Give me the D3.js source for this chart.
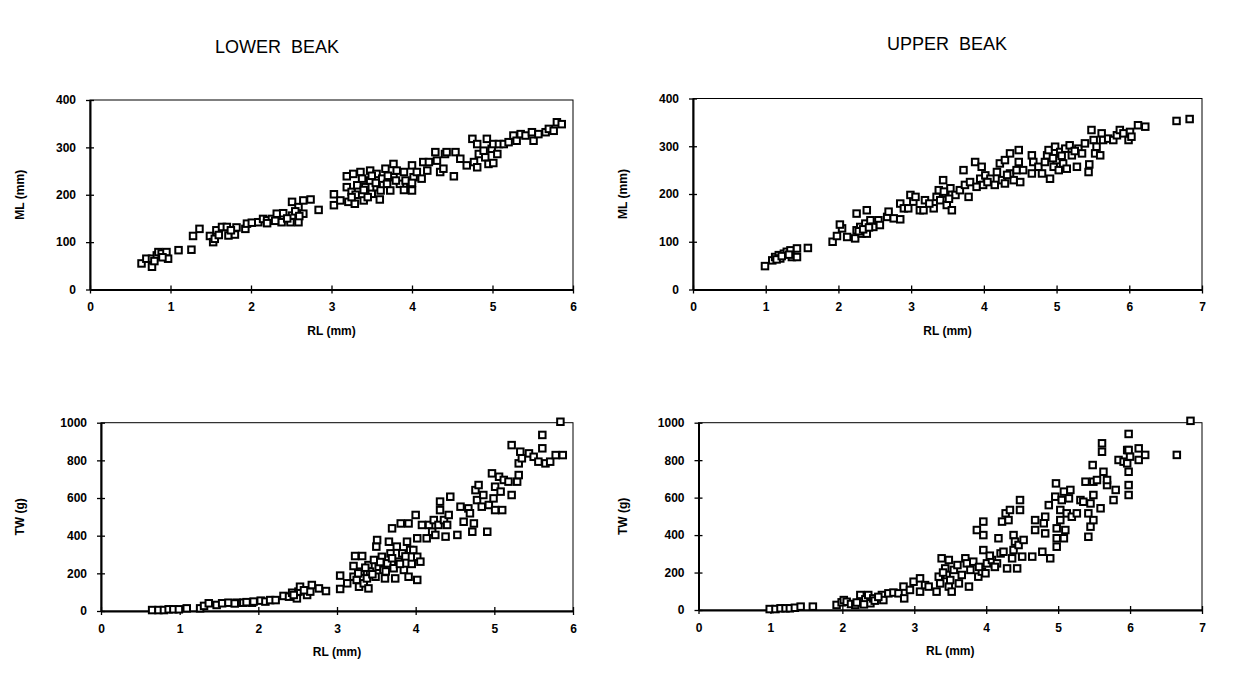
<!DOCTYPE html>
<html><head><meta charset="utf-8">
<script src="https://cdn.jsdelivr.net/npm/d3@7"></script>
<style>body{margin:0;background:#fff}svg{display:block}</style>
</head><body>
<svg id="c" width="1253" height="679"></svg>
<script>
// ---- DATA ----
const titles = ["LOWER  BEAK", "UPPER  BEAK"];
const xLabel = "RL (mm)";
const yLabelML = "ML (mm)";
const yLabelTW = "TW (g)";
const ticksML = [0,100,200,300,400];
const ticksTW = [0,200,400,600,800,1000];
const ticksRLLower = [0,1,2,3,4,5,6];
const ticksRLUpper = [0,1,2,3,4,5,6,7];

// Lower beak: [RL, ML]
const lowerML = [[0.64,55],[0.70,65],[0.77,48],[0.77,65],[0.83,72],[0.85,79],[0.89,76],[0.95,79],[0.97,65],[1.10,83],[1.26,84],[1.28,113],[1.36,128],[1.49,113],[1.53,100],[1.55,107],[1.57,125],[1.64,132],[1.70,132],[1.72,114],[1.80,116],[1.82,131],[1.93,128],[1.95,139],[2.01,141],[2.09,142],[2.15,149],[2.20,146],[2.26,149],[2.32,160],[2.38,142],[2.40,161],[2.49,142],[2.51,185],[2.51,156],[2.59,142],[2.59,174],[2.65,160],[2.65,188],[2.74,190],[2.84,168],[3.03,201],[3.03,178],[3.11,188],[3.19,239],[3.19,216],[3.21,185],[3.25,206],[3.27,244],[3.29,181],[3.32,220],[3.36,248],[3.38,234],[3.40,188],[3.42,216],[3.48,251],[3.48,230],[3.50,202],[3.56,244],[3.56,216],[3.61,209],[3.63,234],[3.67,255],[3.69,223],[3.73,209],[3.77,265],[3.77,237],[3.81,251],[3.85,223],[3.90,248],[3.92,230],[3.98,216],[4.00,262],[4.00,209],[4.02,237],[4.06,248],[4.12,234],[4.14,269],[4.19,251],[4.21,269],[4.29,290],[4.31,272],[4.35,248],[4.39,255],[4.41,286],[4.43,290],[4.52,239],[4.54,290],[4.60,276],[4.68,262],[4.75,318],[4.77,269],[4.81,307],[4.81,258],[4.83,286],[4.89,293],[4.91,279],[4.93,318],[4.95,265],[4.99,297],[5.01,307],[5.01,267],[5.06,286],[5.08,307],[5.14,307],[5.20,311],[5.26,325],[5.30,314],[5.35,328],[5.41,325],[5.49,332],[5.51,314],[5.57,328],[5.66,332],[5.70,339],[5.76,335],[5.80,353],[5.86,349],
[3.30,200],[3.45,195],[3.55,225],[3.70,240],[3.90,210],[3.60,190],[3.40,210],[3.25,195],[3.50,240],[3.80,230],[4.00,225],[2.30,145],[2.45,150],[2.55,165],[2.60,155],[2.20,140],[1.60,115],[1.75,125],[0.80,60],[0.90,68]];

// Upper beak: [RL, ML]
const upperML = [[0.99,49],[1.09,61],[1.13,68],[1.18,72],[1.20,65],[1.25,75],[1.29,79],[1.34,82],[1.36,68],[1.43,86],[1.43,68],[1.58,87],[1.92,100],[1.98,112],[2.05,128],[2.02,136],[2.12,110],[2.23,107],[2.25,159],[2.25,124],[2.30,131],[2.32,117],[2.37,138],[2.39,166],[2.39,117],[2.44,145],[2.48,131],[2.55,145],[2.57,135],[2.67,152],[2.69,163],[2.76,149],[2.85,180],[2.85,147],[2.90,170],[2.96,170],[2.99,198],[3.03,184],[3.06,194],[3.12,166],[3.17,166],[3.19,187],[3.31,170],[3.35,194],[3.38,208],[3.40,187],[3.44,229],[3.47,201],[3.49,177],[3.54,212],[3.56,166],[3.61,198],[3.67,208],[3.72,250],[3.74,219],[3.79,194],[3.81,225],[3.88,267],[3.90,215],[3.95,232],[3.97,257],[3.99,219],[4.02,239],[4.09,232],[4.15,219],[4.18,246],[4.22,264],[4.25,229],[4.29,271],[4.29,222],[4.36,285],[4.36,243],[4.41,229],[4.45,250],[4.48,292],[4.48,267],[4.50,225],[4.54,250],[4.66,281],[4.66,243],[4.68,267],[4.75,257],[4.80,243],[4.84,267],[4.87,281],[4.89,292],[4.91,232],[4.96,257],[4.98,299],[5.00,271],[5.03,250],[5.05,288],[5.09,264],[5.12,295],[5.14,253],[5.18,302],[5.21,281],[5.28,257],[5.30,295],[5.35,285],[5.39,306],[5.44,246],[5.45,262],[5.48,334],[5.51,313],[5.53,285],[5.55,299],[5.60,281],[5.62,327],[5.64,313],[5.71,316],[5.78,313],[5.83,323],[5.87,334],[5.92,327],[5.99,313],[6.01,330],[6.03,320],[6.12,344],[6.22,341],[6.65,353],[6.83,357],
[2.28,122],[2.34,126],[2.42,130],[3.25,180],[3.45,205],[3.52,190],[4.05,225],[4.32,240],[4.95,275],[5.07,280],[5.25,290],[1.15,63],[1.22,70],[1.32,73]];

// Lower beak: [RL, TW]
const lowerTW = [[0.65,5],[0.73,5],[0.80,5],[0.86,9],[0.92,9],[0.99,9],[1.09,14],[1.26,14],[1.31,27],[1.37,41],[1.47,32],[1.54,41],[1.62,44],[1.73,44],[1.81,44],[1.92,44],[1.94,50],[2.03,55],[2.09,50],[2.15,58],[2.22,58],[2.32,80],[2.39,76],[2.43,97],[2.49,67],[2.51,103],[2.53,129],[2.62,85],[2.66,103],[2.68,138],[2.77,120],[2.86,106],[3.04,188],[3.04,117],[3.13,147],[3.21,239],[3.21,182],[3.23,292],[3.25,165],[3.28,129],[3.30,209],[3.32,292],[3.34,147],[3.38,173],[3.40,244],[3.40,120],[3.42,209],[3.47,271],[3.49,182],[3.50,342],[3.51,377],[3.53,235],[3.57,288],[3.59,218],[3.61,173],[3.64,253],[3.66,368],[3.68,306],[3.70,439],[3.72,227],[3.74,173],[3.76,342],[3.78,262],[3.81,465],[3.83,306],[3.85,218],[3.89,368],[3.91,465],[3.91,182],[3.93,324],[3.97,324],[4.00,510],[4.02,386],[4.02,288],[4.02,165],[4.06,262],[4.08,457],[4.14,386],[4.17,457],[4.21,421],[4.23,483],[4.25,404],[4.29,457],[4.31,536],[4.31,581],[4.36,483],[4.38,395],[4.40,457],[4.42,510],[4.44,607],[4.53,404],[4.57,554],[4.61,474],[4.67,545],[4.69,519],[4.72,421],[4.74,465],[4.76,642],[4.78,589],[4.80,669],[4.84,554],[4.86,616],[4.91,421],[4.93,563],[4.97,731],[4.99,598],[5.01,660],[5.01,536],[5.06,713],[5.08,634],[5.10,536],[5.12,696],[5.18,687],[5.22,616],[5.22,881],[5.29,687],[5.31,784],[5.31,722],[5.33,846],[5.35,811],[5.44,837],[5.50,819],[5.56,793],[5.61,864],[5.61,935],[5.65,784],[5.71,793],[5.78,828],[5.84,1005],[5.87,828],
[3.27,200],[3.36,230],[3.45,195],[3.55,260],[3.62,210],[3.70,280],[3.80,250],[3.87,290],[3.95,250],[2.45,85],[2.58,110],[1.70,40],[1.85,47]];

// Upper beak: [RL, TW]
const upperTW = [[0.99,5],[1.07,5],[1.14,9],[1.21,9],[1.27,9],[1.34,12],[1.42,18],[1.59,18],[1.92,27],[1.99,41],[2.02,53],[2.06,44],[2.12,32],[2.18,27],[2.25,80],[2.27,44],[2.32,57],[2.36,80],[2.39,36],[2.43,62],[2.55,80],[2.57,53],[2.64,89],[2.71,93],[2.78,89],[2.85,125],[2.86,62],[2.94,107],[2.99,151],[3.08,169],[3.08,98],[3.15,133],[3.20,125],[3.31,98],[3.34,178],[3.36,142],[3.38,276],[3.43,222],[3.45,187],[3.48,125],[3.48,267],[3.50,160],[3.52,98],[3.55,214],[3.62,142],[3.66,187],[3.71,276],[3.73,249],[3.76,125],[3.78,214],[3.82,258],[3.87,427],[3.89,178],[3.94,205],[3.96,472],[3.96,400],[3.96,320],[3.99,196],[4.01,249],[4.08,267],[4.15,249],[4.17,383],[4.20,302],[4.22,472],[4.24,311],[4.27,516],[4.29,222],[4.31,480],[4.33,534],[4.36,276],[4.38,400],[4.38,320],[4.40,365],[4.43,222],[4.45,347],[4.47,587],[4.47,534],[4.50,285],[4.52,374],[4.64,285],[4.68,480],[4.68,427],[4.78,311],[4.80,463],[4.82,498],[4.82,409],[4.89,276],[4.87,560],[4.96,605],[4.97,676],[4.98,436],[4.98,338],[4.98,383],[5.03,534],[5.03,480],[5.05,587],[5.08,632],[5.08,383],[5.10,427],[5.12,516],[5.15,596],[5.17,641],[5.19,498],[5.26,516],[5.31,587],[5.35,578],[5.38,685],[5.42,516],[5.42,391],[5.45,445],[5.45,569],[5.48,774],[5.49,685],[5.49,614],[5.49,480],[5.54,694],[5.61,890],[5.61,845],[5.59,543],[5.63,738],[5.68,667],[5.68,694],[5.77,587],[5.80,641],[5.84,801],[5.91,792],[5.96,854],[5.96,783],[5.98,940],[5.98,738],[5.98,667],[5.98,614],[6.00,819],[5.98,854],[6.12,801],[6.12,863],[6.21,828],[6.65,828],[6.84,1010],
[2.20,40],[2.30,30],[2.45,50],[2.50,70],[3.40,200],[3.60,240],[3.90,230],[4.05,290],[4.12,230]];

// ---- DRAW ----
const svg = d3.select("#c");
const FONT = "'Liberation Sans', Arial, sans-serif";

svg.append("text").attr("x", 277).attr("y", 53).attr("text-anchor","middle")
  .attr("font-family", FONT).attr("font-size", 18).style("white-space","pre").text(titles[0]);
svg.append("text").attr("x", 947).attr("y", 50).attr("text-anchor","middle")
  .attr("font-family", FONT).attr("font-size", 18).style("white-space","pre").text(titles[1]);

function panel(cfg) {
  const x = d3.scaleLinear().domain(cfg.xDomain).range([cfg.x0, cfg.x1]);
  const y = d3.scaleLinear().domain(cfg.yDomain).range([cfg.y0, cfg.y1]);
  const g = svg.append("g");
  g.append("rect").attr("x", cfg.x0).attr("y", cfg.y1).attr("width", cfg.x1 - cfg.x0)
    .attr("height", cfg.y0 - cfg.y1).attr("fill","none").attr("stroke","#000").attr("stroke-width",1);
  const ax = g.append("g").attr("transform", `translate(0,${cfg.y0})`)
    .call(d3.axisBottom(x).tickValues(cfg.xTicks).tickFormat(d3.format("d")).tickSizeInner(4).tickSizeOuter(0).tickPadding(9));
  ax.select(".domain").attr("stroke-width", 2);
  ax.selectAll(".tick line").attr("y1", -4).attr("y2", 4).attr("stroke-width", 1.3);
  ax.selectAll("text").attr("font-family", FONT).attr("font-size", 12).attr("font-weight","bold").attr("fill","#000");
  const ay = g.append("g").attr("transform", `translate(${cfg.x0},0)`)
    .call(d3.axisLeft(y).tickValues(cfg.yTicks).tickFormat(d3.format("d")).tickSizeInner(4).tickSizeOuter(0).tickPadding(10));
  ay.select(".domain").attr("stroke-width", 2);
  ay.selectAll(".tick line").attr("x1", -4).attr("x2", 4).attr("stroke-width", 1.3);
  ay.selectAll("text").attr("font-family", FONT).attr("font-size", 12).attr("font-weight","bold").attr("fill","#000");
  g.append("text").attr("x", (cfg.x0 + cfg.x1) / 2).attr("y", cfg.y0 + 45).attr("text-anchor","middle")
    .attr("font-family", FONT).attr("font-size", 12).attr("font-weight","bold").text(cfg.xLabel);
  g.append("text").attr("transform", `translate(${cfg.ylX},${(cfg.y0 + cfg.y1) / 2}) rotate(-90)`)
    .attr("text-anchor","middle").attr("font-family", FONT).attr("font-size", 12).attr("font-weight","bold").text(cfg.yLabel);
  const s = 6.5;
  g.append("g").selectAll("rect").data(cfg.data).join("rect")
    .attr("x", d => x(d[0]) - s/2).attr("y", d => y(d[1]) - s/2)
    .attr("width", s).attr("height", s)
    .attr("fill","#fff").attr("stroke","#000").attr("stroke-width",2);
}

panel({x0:90, x1:573, y0:289.5, y1:100, xDomain:[0,6], yDomain:[0,400], xTicks:ticksRLLower, yTicks:ticksML,
  data:lowerML, xLabel:xLabel, yLabel:yLabelML, ylX:24});
panel({x0:693, x1:1202, y0:289.5, y1:98.5, xDomain:[0,7], yDomain:[0,400], xTicks:ticksRLUpper, yTicks:ticksML,
  data:upperML, xLabel:xLabel, yLabel:yLabelML, ylX:627});
panel({x0:101, x1:573, y0:611, y1:422.7, xDomain:[0,6], yDomain:[0,1000], xTicks:ticksRLLower, yTicks:ticksTW,
  data:lowerTW, xLabel:xLabel, yLabel:yLabelTW, ylX:24});
panel({x0:698.5, x1:1202, y0:610, y1:422.7, xDomain:[0,7], yDomain:[0,1000], xTicks:ticksRLUpper, yTicks:ticksTW,
  data:upperTW, xLabel:xLabel, yLabel:yLabelTW, ylX:627});
</script>
</body></html>
